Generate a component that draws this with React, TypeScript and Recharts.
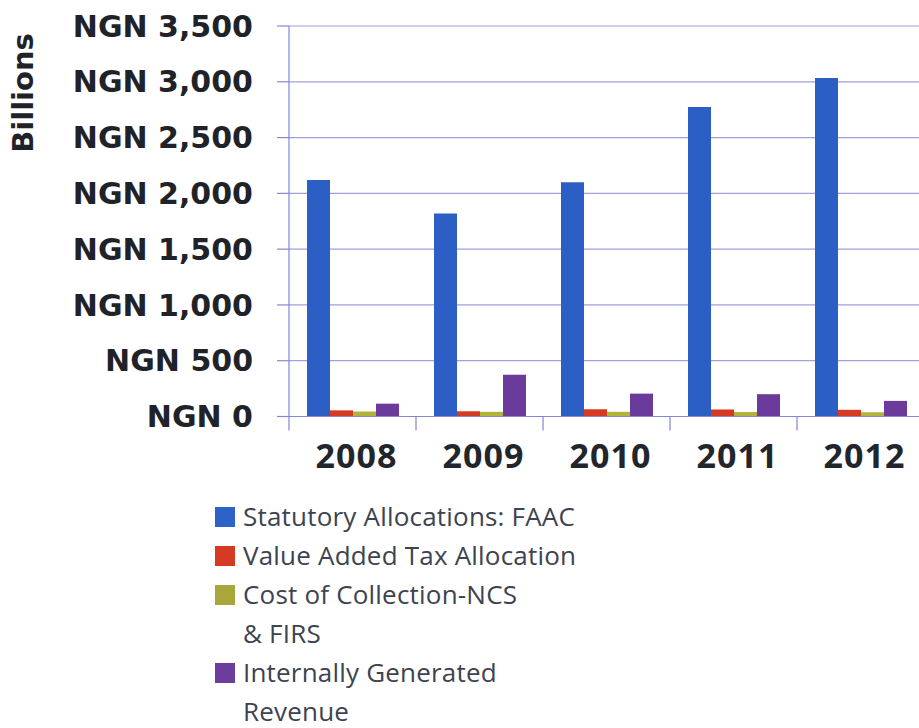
import { BarChart, Bar, XAxis, YAxis, CartesianGrid } from "recharts";

// Revenue sources, NGN billions
const years = ["2008", "2009", "2010", "2011", "2012"];
const faac = [2120, 1820, 2100, 2775, 3035];
const vat = [55, 47, 65, 63, 60];
const costOfCollection = [45, 42, 42, 40, 38];
const igr = [115, 375, 205, 200, 140];
const yTicks = [0, 500, 1000, 1500, 2000, 2500, 3000, 3500];

const legendItems = [
  { lines: ["Statutory Allocations: FAAC"], color: "#2f62c8" },
  { lines: ["Value Added Tax Allocation"], color: "#d53a25" },
  { lines: ["Cost of Collection-NCS", "& FIRS"], color: "#a8a73c" },
  { lines: ["Internally Generated", "Revenue"], color: "#6b3d9c" },
];

const rows = years.map((year, i) => ({
  year,
  faac: faac[i],
  vat: vat[i],
  cost: costOfCollection[i],
  igr: igr[i],
}));

const AXIS = "#8585d6";
const GRID = "#a0a0dc";
const Y_AXIS_W = 289;
const CHART_W = 924;
const PLOT_W = CHART_W - Y_AXIS_W;
const BAND = PLOT_W / years.length;

function YearTick(props: any) {
  const { x, y, payload } = props;
  return (
    <g>
      <line x1={x - BAND / 2} x2={x - BAND / 2} y1={y} y2={y + 14} stroke={AXIS} strokeWidth={1.2} />
      <text
        x={x + 4}
        y={y + 38}
        textAnchor="middle"
        dominantBaseline="central"
        fontFamily="'Open Sans', sans-serif"
        fontWeight={700}
        fontSize={34}
        letterSpacing={1}
        fill="#22262c"
      >
        {payload.value}
      </text>
    </g>
  );
}

function BillionsLabel() {
  return (
    <text
      x={23}
      y={93}
      transform="rotate(-90 23 93)"
      textAnchor="middle"
      dominantBaseline="central"
      fontFamily="'DejaVu Sans', sans-serif"
      fontWeight={700}
      fontSize={29}
      fill="#1f2329"
    >
      Billions
    </text>
  );
}

export default function App() {
  return (
    <div
      style={{
        position: "fixed",
        left: 0,
        top: 0,
        width: 919,
        height: 728,
        overflow: "hidden",
        background: "#fff",
      }}
    >
      <BarChart
        width={CHART_W}
        height={500}
        data={rows}
        margin={{ top: 26, right: 0, left: 0, bottom: 0 }}
        barCategoryGap={18}
        barGap={0}
      >
        <CartesianGrid vertical={false} stroke={GRID} strokeWidth={1.2} />
        <XAxis
          dataKey="year"
          height={83.5}
          interval={0}
          tickSize={0}
          tickMargin={0}
          tickLine={false}
          axisLine={{ stroke: AXIS, strokeWidth: 1.2 }}
          tick={<YearTick />}
        />
        <YAxis
          width={Y_AXIS_W}
          domain={[0, 3500]}
          ticks={yTicks}
          interval={0}
          tickSize={12}
          tickMargin={24}
          axisLine={{ stroke: AXIS, strokeWidth: 1.2 }}
          tickLine={{ stroke: AXIS, strokeWidth: 1.2 }}
          tick={{ fontFamily: "'DejaVu Sans', sans-serif", fontWeight: 700, fontSize: 30, fill: "#1f2329" }}
          tickFormatter={(v: number) => "NGN " + v.toLocaleString("en-US")}
          label={<BillionsLabel />}
        />
        <Bar dataKey="faac" fill="#2c5fc6" isAnimationActive={false} />
        <Bar dataKey="vat" fill="#d63a22" isAnimationActive={false} />
        <Bar dataKey="cost" fill="#b2b33a" isAnimationActive={false} />
        <Bar dataKey="igr" fill="#6b3b9c" isAnimationActive={false} />
      </BarChart>
      <div
        style={{
          position: "absolute",
          left: 215,
          top: 497,
          fontFamily: "'Open Sans', sans-serif",
          fontSize: 26,
          letterSpacing: 0.2,
          lineHeight: "39px",
          color: "#3d4350",
        }}
      >
        {legendItems.map((item) => (
          <div key={item.lines[0]} style={{ position: "relative", paddingLeft: 28 }}>
            <span
              style={{
                position: "absolute",
                left: 0,
                top: 9.5,
                width: 20,
                height: 20,
                background: item.color,
              }}
            />
            {item.lines.map((line) => (
              <div key={line} style={{ whiteSpace: "nowrap" }}>
                {line}
              </div>
            ))}
          </div>
        ))}
      </div>
    </div>
  );
}
